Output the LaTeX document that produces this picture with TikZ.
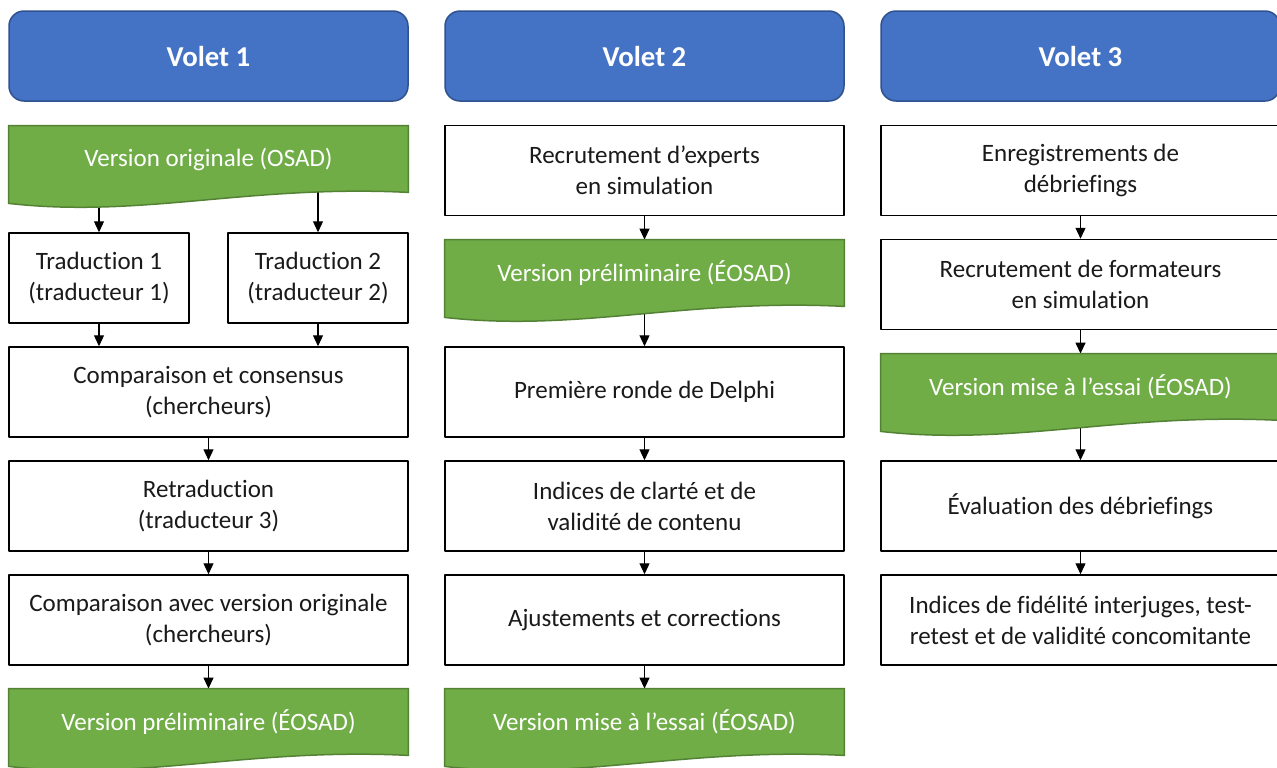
\documentclass[tikz,border=0pt]{standalone}
\usepackage{fontspec}
\setmainfont{Carlito}[Ligatures=CommonOff]
\usetikzlibrary{arrows.meta,backgrounds,calc}
\definecolor{voletblue}{HTML}{4472C4}
\definecolor{voletline}{HTML}{2F528F}
\definecolor{docgreen}{HTML}{70AD47}
\definecolor{docline}{HTML}{548235}
\definecolor{texte}{HTML}{1A1A1A}
\begin{document}
\begin{tikzpicture}[x=0.5pt,y=-0.5pt,line join=round,>={Triangle[length=5.5pt,width=5pt]}]
			\tikzset{every node/.style={font=\fontsize{12.5}{15.5}\selectfont,align=center},
				volet/.style={rounded corners=7.5pt,fill=voletblue,draw=voletline,line width=0.75pt,
					minimum width=199.5pt,minimum height=45pt,text=white,font=\fontsize{14.4}{16}\selectfont\bfseries},
				etape/.style={draw=black,fill=white,text=texte,line width=0.75pt,minimum width=199.5pt,minimum height=45pt},
				demi/.style={etape,minimum width=90pt},
				doc/.style={text=white,minimum width=199.5pt,minimum height=33pt},
				docform/.style={fill=docgreen,draw=docline,line width=0.75pt},
				fleche/.style={->,line width=0.6pt}}
			\useasboundingbox (0,0) rectangle (1277,767);
			% en-tetes
			\node[volet] (h1) at (208.5,56) {Volet 1};
			\node[volet] (h2) at (644.5,56) {Volet 2};
			\node[volet] (h3) at (1080.5,56) {Volet 3};
			% volet 1
			\node[doc] (v1orig) at (208.5,159) {Version originale (OSAD)};
			\node[demi] (trad1) at (99,278) {Traduction 1\\(traducteur 1)};
			\node[demi] (trad2) at (318,278) {Traduction 2\\(traducteur 2)};
			\node[etape] (comp) at (208.5,392) {Comparaison et consensus\\(chercheurs)};
			\node[etape] (retrad) at (208.5,506) {Retraduction\\(traducteur 3)};
			\node[etape] (compor) at (208.5,620) {Comparaison avec version originale\\(chercheurs)};
			\node[doc] (v1prel) at (208.5,722) {Version préliminaire (ÉOSAD)};
			% volet 2
			\node[etape] (rec) at (644.5,170.5) {Recrutement d’experts\\en simulation};
			\node[doc] (v2prel) at (644.5,273) {Version préliminaire (ÉOSAD)};
			\node[etape] (delphi) at (644.5,392) {Première ronde de Delphi};
			\node[etape] (indices) at (644.5,506) {Indices de clarté et de\\validité de contenu};
			\node[etape] (ajust) at (644.5,620) {Ajustements et corrections};
			\node[doc] (v2essai) at (644.5,722) {Version mise à l’essai (ÉOSAD)};
			% volet 3
			\node[etape] (enreg) at (1080.5,170.5) {Enregistrements de\\débriefings};
			\node[etape] (recform) at (1080.5,284.5) {Recrutement de formateurs\\en simulation};
			\node[doc] (v3essai) at (1080.5,387) {Version mise à l’essai (ÉOSAD)};
			\node[etape] (eval) at (1080.5,506) {Évaluation des débriefings};
			\node[etape] (fidel) at (1080.5,620) {Indices de fidélité interjuges, test-\\retest et de validité concomitante};
			\begin{pgfonlayer}{background}
				\draw[fleche] (v1orig.center -| trad1.north) -- (trad1.north);
				\draw[fleche] (v1orig.center -| trad2.north) -- (trad2.north);
				\draw[fleche] (trad1.south) -- (trad1.south |- comp.north);
				\draw[fleche] (trad2.south) -- (trad2.south |- comp.north);
				\draw[fleche] (comp.south) -- (retrad.north);
				\draw[fleche] (retrad.south) -- (compor.north);
				\draw[fleche] (compor.south) -- (v1prel.north);
				\draw[fleche] (rec.south) -- (v2prel.north);
				\draw[fleche] (v2prel.center) -- (delphi.north);
				\draw[fleche] (delphi.south) -- (indices.north);
				\draw[fleche] (indices.south) -- (ajust.north);
				\draw[fleche] (ajust.south) -- (v2essai.north);
				\draw[fleche] (enreg.south) -- (recform.north);
				\draw[fleche] (recform.south) -- (v3essai.north);
				\draw[fleche] (v3essai.center) -- (eval.north);
				\draw[fleche] (eval.south) -- (fidel.north);
				% formes document
				\foreach \d in {v1orig,v1prel,v2prel,v2essai,v3essai}
					\filldraw[docform] (\d.north west) -- (\d.north east) -- (\d.south east)
						.. controls ($(\d.south east)+(-159,-8)$) and ($(\d.south west)+(133,26)$)
						.. ($(\d.south west)+(0,11)$) -- cycle;
			\end{pgfonlayer}
		\end{tikzpicture}
\end{document}
